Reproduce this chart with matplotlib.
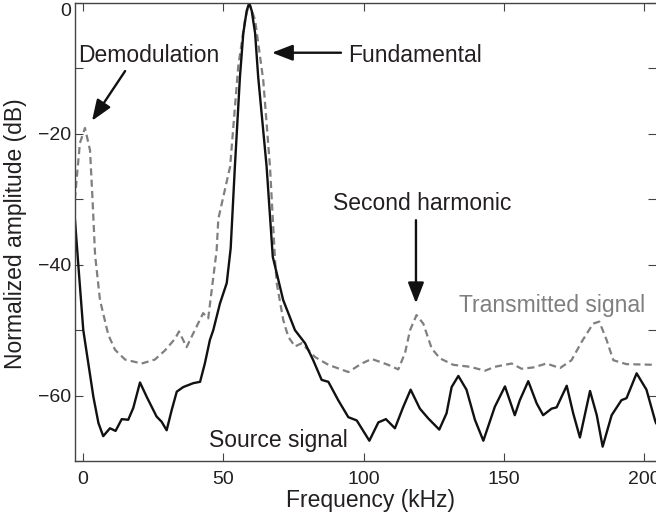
import numpy as np
import matplotlib.pyplot as plt

plt.rcParams['font.family'] = ['Liberation Sans', 'DejaVu Sans']

# source signal (solid black), frequency in kHz and level in dB
src_freq = [-2.9, -2.8, -1.5, 0.1, 1.9, 3.7, 5.5, 7.2, 9.6, 11.6, 13.8, 16.1, 17.9, 20.3, 22.7,
            26.2, 28.0, 29.8, 31.6, 33.4, 35.7, 39.3, 41.7, 43.4, 45.2, 46.4, 48.8, 51.2, 52.6,
            54.1, 55.9, 57.1, 58.3, 59.2, 60.1, 61.3, 62.4, 65.4, 67.6, 71.3, 75.5, 79.1, 82.0,
            85.0, 87.4, 90.9, 94.5, 97.5, 100.4, 102.0, 105.2, 107.9, 111.1, 114.1, 116.7, 120.0,
            123.0, 126.9, 129.5, 131.3, 133.7, 136.6, 139.6, 142.6, 146.7, 150.3, 153.8, 155.6,
            158.6, 161.6, 163.9, 166.9, 168.7, 172.3, 174.6, 177.0, 180.6, 183.0, 185.1, 188.3,
            191.8, 193.6, 197.2, 200.7, 203.7, 204.1]
src_db = [-33.0, -33.5, -41.0, -50.0, -55.1, -60.2, -64.2, -66.2, -65.0, -65.4, -63.6, -63.7, -61.9,
          -58.0, -60.2, -63.2, -64.0, -65.3, -62.2, -59.4, -58.7, -58.1, -57.9, -55.1, -51.5,
          -50.0, -45.9, -42.8, -37.5, -25.0, -11.3, -4.6, -1.2, 0.0, -1.2, -4.6, -11.3, -25.0,
          -38.8, -45.4, -50.0, -52.0, -54.6, -57.6, -57.9, -60.7, -63.3, -63.8, -65.8, -66.9,
          -64.1, -63.6, -65.0, -61.7, -59.1, -62.0, -63.5, -65.2, -62.7, -58.7, -57.0, -59.1,
          -63.7, -66.9, -61.7, -58.6, -63.0, -60.7, -57.8, -61.2, -63.0, -62.0, -61.8, -58.5,
          -62.7, -66.4, -59.3, -63.0, -67.8, -63.0, -60.7, -60.4, -56.6, -59.1, -63.7, -64.2]

# transmitted signal (dashed grey)
tx_freq = [-2.9, -2.5, -1.1, 0.7, 2.5, 3.4, 4.3, 6.05, 9.0, 11.4, 15.0, 20.9, 25.6, 29.2, 32.8,
           34.2, 36.9, 38.7, 42.8, 44.6, 47.6, 48.2, 52.4, 55.3, 57.7, 59.2, 61.3, 64.2, 66.6,
           68.4, 69.0, 71.3, 73.1, 75.5, 77.9, 82.6, 87.4, 94.5, 99.3, 102.8, 108.7, 112.3, 114.7,
           116.5, 118.8, 121.2, 124.2, 127.1, 131.9, 137.8, 143.2, 146.7, 152.7, 156.2, 160.4,
           165.1, 169.9, 174.0, 177.6, 181.7, 183.9, 186.5, 188.9, 193.6, 204.1]
tx_db = [-30.0, -28.1, -21.4, -19.1, -22.5, -30.1, -38.5, -45.4, -50.7, -53.0, -54.5, -55.1, -54.5,
         -53.1, -51.3, -50.2, -52.6, -51.0, -47.4, -48.2, -37.8, -33.0, -25.0, -9.7, -2.6, 0.0,
         -2.6, -11.8, -25.0, -39.3, -42.8, -48.4, -51.0, -52.5, -52.0, -54.1, -55.3, -56.4,
         -55.1, -54.4, -55.3, -56.0, -53.5, -50.0, -47.7, -49.0, -52.8, -54.3, -55.3, -55.6,
         -56.2, -55.6, -55.1, -55.9, -55.7, -55.1, -55.8, -54.6, -51.8, -49.0, -48.7, -51.5,
         -54.6, -55.2, -55.3]

x_ticks = [0, 50, 100, 150, 200]
y_ticks = [0, -10, -20, -30, -40, -50, -60, -70]
y_labels = ['0', '', '\u221220', '', '\u221240', '', '\u221260', '']

ink = '#231f20'
grey = '#7f7f7f'

fig = plt.figure(figsize=(6.56, 5.17), dpi=100)
ax = fig.add_axes([75 / 656, 1 - 461 / 517, 581 / 656, 458 / 517])

ax.plot(tx_freq, tx_db, color=grey, lw=1.6, dashes=(3.2, 1.9))
ax.plot(src_freq, src_db, color='#111111', lw=1.7, solid_joinstyle='round')

ax.set_xlim(-2.85, 204.1)
ax.set_ylim(-70, 0)
ax.set_xticks(x_ticks)
ax.set_yticks(y_ticks)
ax.set_yticklabels(y_labels)
ax.tick_params(direction='in', length=6, width=0.8, top=True, right=True,
               labelsize=14, labelcolor=ink, color='#444444')
ax.tick_params(axis='x', pad=7)
ax.tick_params(axis='y', pad=3)
ax.get_yticklabels()[0].set_va('top')
for s in ['left', 'bottom', 'top']:
    ax.spines[s].set_color('#444444')
    ax.spines[s].set_linewidth(1.0)
ax.spines['right'].set_visible(False)

ax.set_xlabel('Frequency (kHz)', fontsize=16.5, color=ink)
ax.set_ylabel('Normalized amplitude (dB)', fontsize=16.5, color=ink)
ax.xaxis.label.set_va('center')
ax.xaxis.set_label_coords((370 - 75) / 581, (461 - 500) / 458)
ax.yaxis.label.set_va('center')
ax.yaxis.set_label_coords((16 - 75) / 581, (461 - 234) / 458)

# annotations
arr = dict(arrowstyle='-|>,head_length=0.7,head_width=0.27', lw=1.7, color='#111111',
           mutation_scale=18, shrinkA=0, shrinkB=0)
ax.text(-1.8, -9.0, 'Demodulation', fontsize=16.5, color=ink, va='baseline')
ax.annotate('', xy=(3.2, -18.0), xytext=(15.0, -10.4), arrowprops=arr)
ax.text(94.4, -9.0, 'Fundamental', fontsize=16.5, color=ink, va='baseline')
ax.annotate('', xy=(67.3, -7.6), xytext=(91.9, -7.6), arrowprops=arr)
ax.text(89.0, -31.6, 'Second harmonic', fontsize=16.5, color=ink, va='baseline')
ax.annotate('', xy=(118.6, -45.9), xytext=(118.6, -33.2), arrowprops=arr)
ax.text(44.9, -67.8, 'Source signal', fontsize=16.5, color=ink, va='baseline')
ax.text(133.9, -47.3, 'Transmitted signal', fontsize=16.5, color=grey, va='baseline')

plt.savefig('out.png', dpi=100)
